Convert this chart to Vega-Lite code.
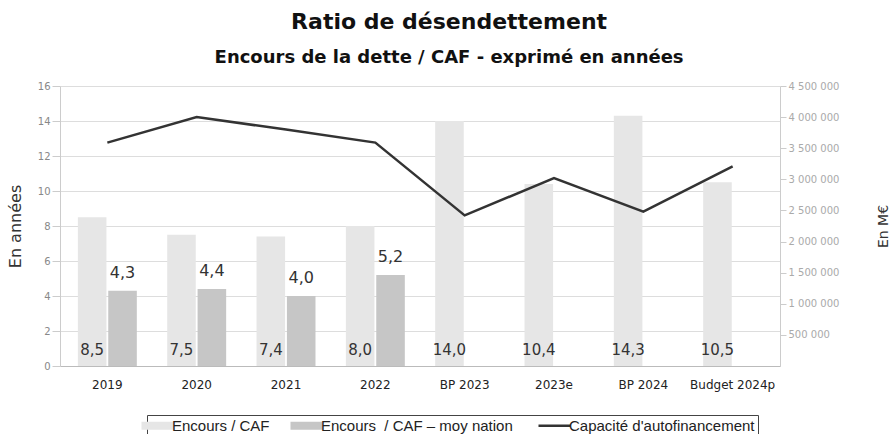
{
  "$schema": "https://vega.github.io/schema/vega-lite/v6.json",
  "width": 720,
  "height": 280,
  "autosize": {"type": "none"},
  "padding": {"left": 60, "top": 86, "right": 112, "bottom": 68},
  "background": "white",
  "title": {
    "text": "Ratio de désendettement",
    "subtitle": "Encours de la dette / CAF - exprimé en années",
    "font": "DejaVu Sans",
    "fontSize": 22,
    "fontWeight": "bold",
    "color": "#111111",
    "subtitleFont": "DejaVu Sans",
    "subtitleFontSize": 18,
    "subtitleFontWeight": "bold",
    "subtitleColor": "#111111",
    "subtitlePadding": 15,
    "anchor": "middle",
    "frame": "bounds",
    "offset": 13
  },
  "datasets": {
    "ratios": [
      {"annee": "2019", "serie": "Encours / CAF", "valeur": 8.5},
      {"annee": "2019", "serie": "Encours\u00a0 / CAF – moy nation", "valeur": 4.3},
      {"annee": "2020", "serie": "Encours / CAF", "valeur": 7.5},
      {"annee": "2020", "serie": "Encours\u00a0 / CAF – moy nation", "valeur": 4.4},
      {"annee": "2021", "serie": "Encours / CAF", "valeur": 7.4},
      {"annee": "2021", "serie": "Encours\u00a0 / CAF – moy nation", "valeur": 4.0},
      {"annee": "2022", "serie": "Encours / CAF", "valeur": 8.0},
      {"annee": "2022", "serie": "Encours\u00a0 / CAF – moy nation", "valeur": 5.2},
      {"annee": "BP 2023", "serie": "Encours / CAF", "valeur": 14.0},
      {"annee": "2023e", "serie": "Encours / CAF", "valeur": 10.4},
      {"annee": "BP 2024", "serie": "Encours / CAF", "valeur": 14.3},
      {"annee": "Budget 2024p", "serie": "Encours / CAF", "valeur": 10.5}
    ],
    "caf": [
      {"annee": "2019", "serie": "Capacité d'autofinancement", "caf": 3590000},
      {"annee": "2020", "serie": "Capacité d'autofinancement", "caf": 4000000},
      {"annee": "2021", "serie": "Capacité d'autofinancement", "caf": 3800000},
      {"annee": "2022", "serie": "Capacité d'autofinancement", "caf": 3590000},
      {"annee": "BP 2023", "serie": "Capacité d'autofinancement", "caf": 2420000},
      {"annee": "2023e", "serie": "Capacité d'autofinancement", "caf": 3020000},
      {"annee": "BP 2024", "serie": "Capacité d'autofinancement", "caf": 2480000},
      {"annee": "Budget 2024p", "serie": "Capacité d'autofinancement", "caf": 3210000}
    ]
  },
  "layer": [
    {
      "data": {"name": "ratios"},
      "encoding": {
        "x": {
          "field": "annee",
          "type": "nominal",
          "scale": {
            "domain": ["2019", "2020", "2021", "2022", "BP 2023", "2023e", "BP 2024", "Budget 2024p"],
            "paddingInner": 0.34,
            "paddingOuter": 0.2
          },
          "axis": {
            "title": null,
            "labelAngle": 0,
            "labelFont": "DejaVu Sans",
            "labelFontSize": 12,
            "labelColor": "#222222",
            "labelPadding": 13,
            "domainColor": "#bbbbbb",
            "ticks": false
          }
        },
        "y": {
          "field": "valeur",
          "type": "quantitative",
          "scale": {"domain": [0, 16], "nice": false},
          "axis": {
            "title": "En années",
            "titleFont": "DejaVu Sans",
            "titleFontSize": 16,
            "titleFontWeight": "normal",
            "titleColor": "#333333",
            "titlePadding": 14,
            "values": [0, 2, 4, 6, 8, 10, 12, 14, 16],
            "labelFont": "DejaVu Sans",
            "labelFontSize": 10,
            "labelColor": "#888888",
            "labelOverlap": false,
            "tickColor": "#cccccc",
            "tickSize": 8,
            "domainColor": "#cccccc",
            "gridColor": "#dddddd",
            "grid": true
          }
        }
      },
      "layer": [
        {
          "mark": {"type": "bar"},
          "encoding": {
            "xOffset": {
              "field": "serie",
              "type": "nominal",
              "scale": {"domain": ["Encours / CAF", "Encours\u00a0 / CAF – moy nation"], "paddingInner": 0.06}
            },
            "color": {
              "field": "serie",
              "type": "nominal",
              "scale": {
                "domain": ["Encours / CAF", "Encours\u00a0 / CAF – moy nation", "Capacité d'autofinancement"],
                "range": ["#e6e6e6", "#c6c6c6", "#333333"]
              },
              "legend": {
                "title": null,
                "orient": "none",
                "legendX": 87,
                "legendY": 329,
                "direction": "horizontal",
                "labelFont": "Liberation Sans",
                "labelFontSize": 15,
                "labelColor": "#222222",
                "labelOffset": 7,
                "symbolSize": 1024,
                "symbolType": "M-1,-0.25H1V0.25H-1Z",
                "symbolStrokeWidth": 0,
                "columnPadding": 20,
                "strokeColor": "#444444",
                "padding": 3,
                "labelLimit": 400,
                "encode": {
                  "symbols": {
                    "update": {
                      "shape": {"signal": "datum.label == \"Capacité d'autofinancement\" ? 'stroke' : 'M-1,-0.25H1V0.25H-1Z'"},
                      "fill": {"signal": "scale('color', datum.value)"},
                      "stroke": {"signal": "scale('color', datum.value)"},
                      "strokeWidth": {"signal": "datum.label == \"Capacité d'autofinancement\" ? 2.5 : 0"}
                    }
                  }
                }
              }
            }
          }
        },
        {
          "transform": [{"filter": "datum.serie == 'Encours / CAF'"}],
          "mark": {"type": "text", "font": "DejaVu Sans", "fontSize": 15, "color": "#333333", "baseline": "bottom", "dy": -8},
          "encoding": {
            "xOffset": {"field": "serie", "type": "nominal"},
            "y": {"datum": 0},
            "text": {"field": "valeur", "type": "quantitative", "format": ".1f"}
          }
        },
        {
          "transform": [{"filter": "datum.serie != 'Encours / CAF'"}],
          "mark": {"type": "text", "font": "DejaVu Sans", "fontSize": 16, "color": "#333333", "baseline": "bottom", "dy": -10},
          "encoding": {
            "xOffset": {"field": "serie", "type": "nominal"},
            "text": {"field": "valeur", "type": "quantitative", "format": ".1f"}
          }
        }
      ]
    },
    {
      "data": {"name": "caf"},
      "mark": {"type": "line", "strokeWidth": 2.5},
      "encoding": {
        "x": {"field": "annee", "type": "nominal"},
        "y": {
          "field": "caf",
          "type": "quantitative",
          "scale": {"domain": [0, 4500000], "nice": false},
          "axis": {
            "orient": "right",
            "title": "En M€",
            "titleFont": "DejaVu Sans",
            "titleFontSize": 14,
            "titleFontWeight": "normal",
            "titleColor": "#333333",
            "titleAngle": 270,
            "titlePadding": 52,
            "values": [500000, 1000000, 1500000, 2000000, 2500000, 3000000, 3500000, 4000000, 4500000],
            "format": ",.0f",
            "labelFont": "DejaVu Sans",
            "labelFontSize": 10,
            "labelColor": "#aaaaaa",
            "tickColor": "#cccccc",
            "tickSize": 6,
            "domainColor": "#cccccc",
            "grid": false
          }
        },
        "color": {"field": "serie", "type": "nominal"}
      }
    }
  ],
  "resolve": {"scale": {"y": "independent"}},
  "config": {
    "view": {"stroke": null},
    "locale": {
      "number": {"decimal": ",", "thousands": " ", "grouping": [3], "currency": ["", " €"]}
    }
  }
}
